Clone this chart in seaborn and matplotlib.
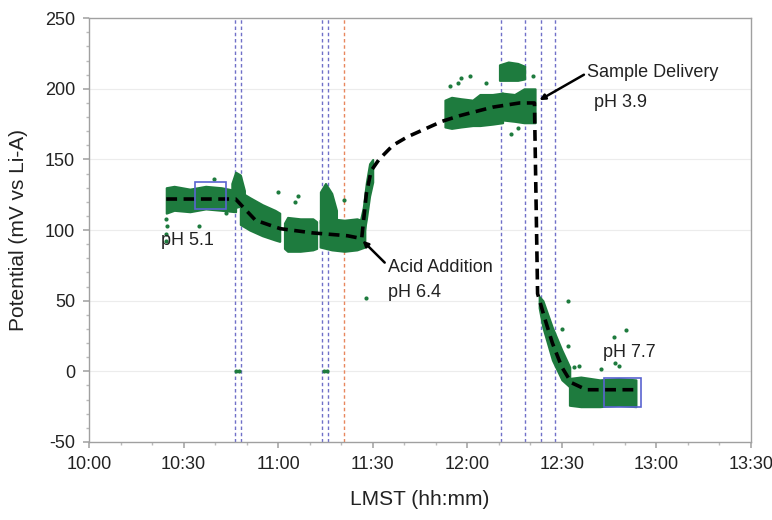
import matplotlib
matplotlib.use("Agg")
import matplotlib.pyplot as plt
import seaborn as sns
import numpy as np
import pandas as pd

# ---------------- data (time in minutes after midnight, LMST) ----------------
x_ticks = [600, 630, 660, 690, 720, 750, 780, 810]
x_tick_labels = ["10:00", "10:30", "11:00", "11:30", "12:00", "12:30", "13:00", "13:30"]
y_ticks = [-50, 0, 50, 100, 150, 200, 250]

# dense measurement clouds: (time, lower edge, upper edge)
cloud_a_t = [624.5, 627, 632, 637, 642, 646.5]
cloud_a_lo = [112, 114, 113, 115, 114, 113]
cloud_a_hi = [130, 131, 129, 131, 130, 128]

cloud_b_t = [645.3, 646.5, 648, 649.3]
cloud_b_lo = [118, 116, 117, 119]
cloud_b_hi = [133, 141, 139, 128]

cloud_c_t = [648, 651, 655, 659, 660.5]
cloud_c_lo = [104, 100, 96, 93, 92]
cloud_c_hi = [127, 123, 118, 114, 112]

cloud_d_t = [662, 663, 667, 671, 672.2]
cloud_d_lo = [87, 85, 85, 86, 87]
cloud_d_hi = [105, 109, 108, 108, 106]

cloud_e_t = [673.3, 677, 681, 685, 687.5]
cloud_e_lo = [88, 86, 85, 86, 88]
cloud_e_hi = [107, 108, 107, 108, 106]

cloud_f_t = [673.4, 675, 677, 678.5]
cloud_f_lo = [105, 105, 106, 106]
cloud_f_hi = [127, 133, 126, 114]

cloud_g_t = [685.5, 687, 688, 689, 690]
cloud_g_lo = [90, 95, 108, 124, 134]
cloud_g_hi = [101, 116, 134, 147, 150]

cloud_h_t = [712.9, 715, 718, 721.7, 724, 728, 731.2]
cloud_h_lo = [173, 172, 173, 174, 174, 175, 176]
cloud_h_hi = [192, 194, 193, 192, 196, 196, 197]

cloud_i_t = [730.2, 733, 736, 738.2]
cloud_i_lo = [206, 206, 206, 207]
cloud_i_hi = [217, 219, 218, 216]

cloud_j_t = [731, 735, 738, 741.5]
cloud_j_lo = [178, 177, 176, 176]
cloud_j_hi = [197, 196, 200, 200]

cloud_l_t = [742.8, 744, 747, 750, 752.5]
cloud_l_lo = [45, 31, 8, -6, -11]
cloud_l_hi = [53, 50, 31, 15, 3]

cloud_m_t = [752.4, 756, 762, 768, 773.5]
cloud_m_lo = [-24, -25, -25, -24, -25]
cloud_m_hi = [-5, -4, -6, -5, -6]

# isolated readings
outlier_t = [624.5, 624.6, 624.4, 624.5, 639.5, 634.8, 643.3, 659.8, 666.4, 665.4,
             681.0, 688.0, 714.5, 717.0, 718.0, 720.8, 726.0, 740.7, 734.0, 736.0,
             751.8, 750.0, 751.8, 755.5, 754.0, 762.5, 768.0, 770.4, 766.6, 767.0,
             646.6, 647.6, 674.5, 675.5]
outlier_v = [108, 103, 97, 92, 136, 103, 112, 127, 124, 120,
             121, 52, 202, 204, 208, 209, 204, 209, 168, 172,
             50, 30, 18, 4, 3, 2, 4, 29, 24, 6,
             0, 0, 0, 0]

# fitted trend
trend_t = [624.5, 646.5, 649, 652.8, 658, 660.7, 671, 682, 686.5,
           688, 689.5, 692, 696.4, 701, 707, 712, 717.6, 728, 736.6, 741.3,
           742.3, 744.5, 747, 750, 753, 757.8, 773]
trend_v = [122, 122, 116, 107, 103, 101, 98, 96, 94,
           126, 142, 150, 160, 166, 172, 177, 181, 187, 190, 190,
           55, 38, 20, 3, -8, -13, -13]

blue_events = [646.2, 648.1, 674.0, 675.9, 730.6, 738.2, 743.5, 747.8]
orange_events = [680.9]

# selection boxes: (t0, t1, v0, v1)
box1 = (633.5, 643.6, 115, 134)
box2 = (763.5, 775.2, -25, -5)

# ---------------- plot ----------------
sns.set_theme(style="white")
plt.rcParams["font.family"] = ["Liberation Sans", "DejaVu Sans"]
plt.rcParams["axes.unicode_minus"] = False

fig = plt.figure(figsize=(7.72, 5.20), dpi=100)
ax = fig.add_axes([0.1153, 0.15, 0.8575, 0.815])

green = "#1e7b3e"
for y in y_ticks[1:-1]:
    ax.axhline(y, color="#ececec", lw=0.8, zorder=0)

clouds = [(cloud_a_t, cloud_a_lo, cloud_a_hi), (cloud_b_t, cloud_b_lo, cloud_b_hi),
          (cloud_c_t, cloud_c_lo, cloud_c_hi), (cloud_d_t, cloud_d_lo, cloud_d_hi),
          (cloud_e_t, cloud_e_lo, cloud_e_hi), (cloud_f_t, cloud_f_lo, cloud_f_hi),
          (cloud_g_t, cloud_g_lo, cloud_g_hi), (cloud_h_t, cloud_h_lo, cloud_h_hi),
          (cloud_i_t, cloud_i_lo, cloud_i_hi), (cloud_j_t, cloud_j_lo, cloud_j_hi),
          (cloud_l_t, cloud_l_lo, cloud_l_hi), (cloud_m_t, cloud_m_lo, cloud_m_hi)]
for t, lo, hi in clouds:
    ax.fill_between(t, lo, hi, color=green, lw=1.5, edgecolor=green, zorder=2)

for t in blue_events:
    ax.axvline(t, color="#7070c8", lw=1.0, ls=(0, (2.5, 2)), zorder=1)
for t in orange_events:
    ax.axvline(t, color="#e8875e", lw=1.0, ls=(0, (2.5, 2)), zorder=1)

out_df = pd.DataFrame({"t": outlier_t, "v": outlier_v})
sns.scatterplot(data=out_df, x="t", y="v", color=green, s=9, linewidth=0, ax=ax, zorder=3)

trend_df = pd.DataFrame({"t": trend_t, "v": trend_v})
sns.lineplot(data=trend_df, x="t", y="v", color="black", lw=2.6, ax=ax, zorder=4,
             sort=False, dashes=False)
ax.lines[-1].set_dashes((3, 1.8))

for (t0, t1, v0, v1) in (box1, box2):
    ax.add_patch(plt.Rectangle((t0, v0), t1 - t0, v1 - v0, fill=False,
                               edgecolor="#5a64d0", lw=1.2, zorder=5))

ax.set_xlim(600, 810)
ax.set_ylim(-50, 250)
ax.set_xticks(x_ticks)
ax.set_xticklabels(x_tick_labels)
ax.set_yticks(y_ticks)
ax.set_xticks(np.arange(600, 811, 10), minor=True)
ax.set_yticks(np.arange(-50, 251, 10), minor=True)
ax.tick_params(axis="both", which="major", labelsize=13, length=4, color="#aaaaaa",
               direction="out", pad=6, labelcolor="#222222")
ax.tick_params(axis="both", which="minor", length=2, color="#bbbbbb", direction="out")
ax.tick_params(bottom=True, left=True, which="both")
for s in ax.spines.values():
    s.set_color("#a0a0a0")
    s.set_linewidth(1.0)

ax.set_xlabel("LMST (hh:mm)", fontsize=15, labelpad=12, color="#222222")
ax.set_ylabel("Potential (mV vs Li-A)", fontsize=15, labelpad=12, color="#222222")

fs = 13
ax.text(622.8, 92.6, "pH 5.1", fontsize=fs, va="center", ha="left", color="#222222")
ax.text(695, 73.5, "Acid Addition", fontsize=fs, va="center", ha="left", color="#222222")
ax.text(695, 56, "pH 6.4", fontsize=fs, va="center", ha="left", color="#222222")
ax.text(758, 211.5, "Sample Delivery", fontsize=fs, va="center", ha="left", color="#222222")
ax.text(760.3, 190, "pH 3.9", fontsize=fs, va="center", ha="left", color="#222222")
ax.text(763.1, 13.4, "pH 7.7", fontsize=fs, va="center", ha="left", color="#222222")

ax.annotate("", xy=(686.8, 92.5), xytext=(693.8, 77),
            arrowprops=dict(arrowstyle="-|>", color="black", lw=1.8, mutation_scale=8,
                            shrinkA=0, shrinkB=0))
ax.annotate("", xy=(742.9, 192), xytext=(757, 210),
            arrowprops=dict(arrowstyle="-|>", color="black", lw=1.8, mutation_scale=8,
                            shrinkA=0, shrinkB=0))

fig.savefig("out.png", dpi=100)
